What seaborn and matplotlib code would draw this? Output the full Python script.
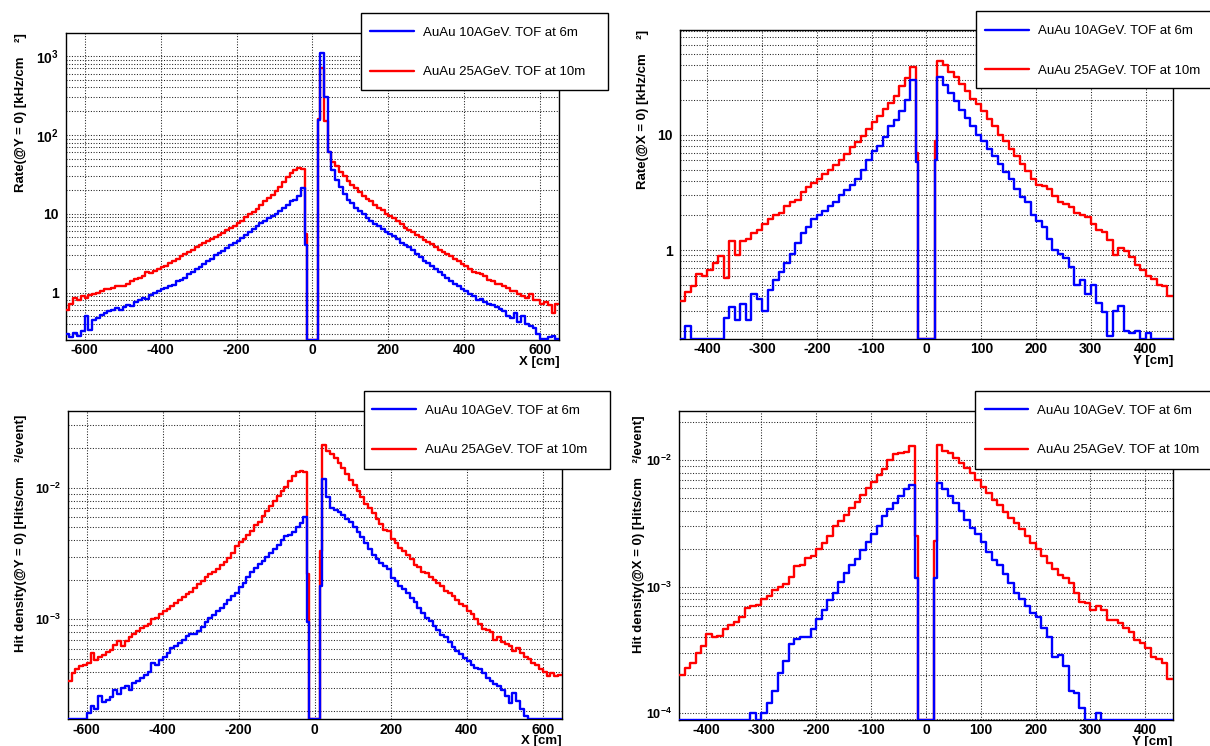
import numpy as np
import pandas as pd
import matplotlib
matplotlib.use("Agg")
import matplotlib.pyplot as plt
import seaborn as sns
from matplotlib.lines import Line2D
from matplotlib.patches import Rectangle
from matplotlib.ticker import MultipleLocator, LogLocator, NullFormatter, FuncFormatter

sns.set_style("white")
plt.rcParams['font.family'] = ['Liberation Sans', 'DejaVu Sans']
plt.rcParams['font.weight'] = 'bold'
plt.rcParams['mathtext.fontset'] = 'custom'
plt.rcParams['mathtext.rm'] = 'Liberation Sans:bold'
plt.rcParams['mathtext.bf'] = 'Liberation Sans:bold'
plt.rcParams['mathtext.it'] = 'Liberation Sans:bold'
plt.rcParams['axes.unicode_minus'] = False
for k in ['axes.edgecolor', 'text.color', 'axes.labelcolor', 'xtick.color', 'ytick.color']:
    plt.rcParams[k] = 'black'

# ---------------- data ----------------
series = ["AuAu 10AGeV. TOF at 6m", "AuAu 25AGeV. TOF at 10m"]
series_colors = {"AuAu 10AGeV. TOF at 6m": "#0000ff", "AuAu 25AGeV. TOF at 10m": "#ff0000"}

# bins: 10 cm wide, with 5 cm bins next to the beam hole (-20..-15, hole -15..15, 15..20)
edges_x = np.concatenate([np.arange(-650, -15, 10), [-15, 15], np.arange(20, 651, 10)])
edges_y = np.concatenate([np.arange(-450, -15, 10), [-15, 15], np.arange(20, 451, 10)])

# Panel 1: Rate(@Y=0) vs X  [kHz/cm2]
rate_x_10 = [
    0.30, 0.27, 0.31, 0.28, 0.33, 0.50, 0.34, 0.45, 0.48, 0.52,
    0.55, 0.58, 0.60, 0.63, 0.60, 0.66, 0.70, 0.67, 0.75, 0.80,
    0.85, 0.82, 0.92, 1.00, 1.05, 1.10, 1.15, 1.22, 1.25, 1.40,
    1.45, 1.55, 1.70, 1.80, 2.00, 2.10, 2.30, 2.50, 2.70, 3.00,
    3.20, 3.40, 3.70, 4.00, 4.30, 4.50, 4.90, 5.30, 5.80, 6.40,
    7.00, 7.60, 8.20, 8.80, 9.30, 10.0, 10.8, 12.0, 13.0, 14.5,
    15.0, 17.0, 21.0,
    4.0, 0.0, 155.0,
    1080, 300, 60, 36, 27, 22, 18, 15, 13.5, 12,
    10.8, 9.8, 8.8, 8.2, 7.5, 7.0, 6.5, 5.9, 5.6, 5.2,
    4.8, 4.3, 4.0, 3.8, 3.5, 3.1, 2.8, 2.5, 2.4, 2.2,
    2.0, 1.85, 1.65, 1.55, 1.40, 1.30, 1.20, 1.10, 1.05, 0.95,
    0.90, 0.80, 0.82, 0.75, 0.72, 0.70, 0.65, 0.62, 0.58, 0.50,
    0.48, 0.55, 0.42, 0.50, 0.40, 0.38, 0.36, 0.30, 0.26, 0.26,
    0.27, 0.28, 0.26]
rate_x_25 = [
    0.60, 0.72, 0.85, 0.80, 0.90, 0.85, 0.92, 0.95, 1.00, 1.05,
    1.10, 1.12, 1.15, 1.20, 1.22, 1.20, 1.30, 1.40, 1.50, 1.55,
    1.60, 1.85, 1.75, 1.90, 2.00, 2.10, 2.15, 2.40, 2.55, 2.70,
    2.90, 3.10, 3.30, 3.50, 3.80, 4.00, 4.30, 4.50, 4.80, 5.00,
    5.30, 5.70, 6.20, 6.60, 7.00, 7.60, 8.20, 9.00, 9.80, 10.5,
    11.5, 13.0, 14.5, 16.0, 17.5, 19.5, 22.0, 25.0, 29.0, 33.0,
    36.0, 38.0, 37.0,
    5.5, 0.0, 160.0,
    700, 150, 60, 46, 40, 34, 30, 26, 23, 21,
    19, 17, 15.5, 14.5, 13, 12, 11, 10, 9.4, 8.8,
    8.2, 7.5, 6.6, 6.2, 5.8, 5.4, 5.0, 4.7, 4.4, 4.1,
    3.8, 3.5, 3.3, 3.1, 2.9, 2.7, 2.5, 2.3, 2.15, 2.0,
    1.85, 1.75, 1.70, 1.60, 1.45, 1.40, 1.30, 1.28, 1.20, 1.15,
    1.05, 1.05, 0.95, 0.90, 0.85, 0.95, 0.80, 0.80, 0.72, 0.75,
    0.70, 0.55, 0.72]

# Panel 2: Rate(@X=0) vs Y  [kHz/cm2]
rate_y_10 = [
    0, 0.22, 0, 0, 0, 0, 0, 0, 0.26, 0.32,
    0.25, 0.34, 0.25, 0.42, 0.38, 0.30, 0.45, 0.55, 0.65, 0.78,
    0.93, 1.15, 1.4, 1.6, 1.85, 2.0, 2.2, 2.4, 2.6, 3.0,
    3.3, 3.7, 4.1, 5.0, 6.1, 7.3, 8.0, 9.5, 11.9, 13.5,
    16, 20, 30,
    5.8, 0.0, 6.0,
    32, 27, 23, 19.5, 16.5, 14, 12, 10, 8.8, 7.5,
    6.5, 5.6, 4.8, 4.1, 3.4, 2.9, 2.6, 2.0, 1.8, 1.6,
    1.25, 1.0, 0.92, 0.85, 0.72, 0.5, 0.55, 0.42, 0.5, 0.35,
    0.29, 0.18, 0.30, 0.33, 0.2, 0.19, 0.2, 0, 0.19, 0,
    0, 0, 0]
rate_y_25 = [
    0.36, 0.43, 0.49, 0.62, 0.60, 0.68, 0.78, 0.89, 0.57, 1.20,
    0.90, 1.20, 1.25, 1.40, 1.50, 1.70, 1.85, 2.00, 2.10, 2.40,
    2.60, 2.75, 3.20, 3.50, 3.85, 4.10, 4.60, 5.00, 5.50, 6.10,
    6.80, 7.80, 8.60, 9.80, 11.2, 12.8, 14.6, 16.7, 19.0, 21.8,
    26.5, 31.0, 39.0,
    7.0, 0.0, 8.8,
    44, 40, 35, 31.5, 27.6, 24, 20.4, 18.5, 16.2, 13.7,
    12, 10, 8.9, 7.5, 6.6, 5.6, 4.9, 4.1, 3.7, 3.6,
    3.4, 2.95, 2.6, 2.5, 2.35, 2.1, 2.0, 1.95, 1.7, 1.5,
    1.45, 1.23, 0.9, 1.05, 0.98, 0.88, 0.75, 0.68, 0.6, 0.56,
    0.5, 0.49, 0.4]

# Panel 3: Hit density(@Y=0) vs X  [Hits/cm2/event]
hits_x_10 = [
    0, 0, 0, 0, 0, 1.95e-4, 2.2e-4, 2.1e-4, 2.6e-4, 2.35e-4,
    2.45e-4, 2.55e-4, 2.9e-4, 2.7e-4, 3.0e-4, 3.1e-4, 2.9e-4, 3.3e-4, 3.4e-4, 3.6e-4,
    3.8e-4, 4.0e-4, 4.7e-4, 4.5e-4, 4.9e-4, 5.2e-4, 5.6e-4, 6.1e-4, 6.3e-4, 6.6e-4,
    7.0e-4, 7.5e-4, 7.7e-4, 7.8e-4, 8.2e-4, 8.8e-4, 9.5e-4, 1.02e-3, 1.08e-3, 1.15e-3,
    1.22e-3, 1.3e-3, 1.4e-3, 1.5e-3, 1.6e-3, 1.75e-3, 1.9e-3, 2.1e-3, 2.3e-3, 2.45e-3,
    2.65e-3, 2.8e-3, 3.0e-3, 3.2e-3, 3.4e-3, 3.7e-3, 4.0e-3, 4.3e-3, 4.4e-3, 4.6e-3,
    5.0e-3, 5.4e-3, 6.0e-3,
    9.5e-4, 0.0, 1.8e-3,
    1.16e-2, 8.5e-3, 7.0e-3, 6.8e-3, 6.5e-3, 6.2e-3, 5.8e-3, 5.5e-3, 5.0e-3, 4.6e-3,
    4.2e-3, 3.8e-3, 3.4e-3, 3.1e-3, 2.9e-3, 2.7e-3, 2.55e-3, 2.4e-3, 2.05e-3, 1.95e-3,
    1.8e-3, 1.7e-3, 1.6e-3, 1.45e-3, 1.35e-3, 1.22e-3, 1.12e-3, 1.02e-3, 9.8e-4, 8.9e-4,
    8.3e-4, 7.6e-4, 7.3e-4, 6.7e-4, 6.2e-4, 5.8e-4, 5.5e-4, 5.1e-4, 4.8e-4, 4.5e-4,
    4.3e-4, 4.2e-4, 3.9e-4, 3.6e-4, 3.4e-4, 3.25e-4, 3.1e-4, 2.9e-4, 2.6e-4, 2.3e-4,
    2.75e-4, 2.4e-4, 2.1e-4, 1.85e-4, 0, 0, 0, 0, 0, 0,
    0, 0, 0]
hits_x_25 = [
    3.4e-4, 3.9e-4, 4.2e-4, 4.4e-4, 4.5e-4, 4.7e-4, 5.6e-4, 4.9e-4, 5.2e-4, 5.4e-4,
    5.7e-4, 5.9e-4, 6.4e-4, 6.8e-4, 6.3e-4, 6.8e-4, 7.3e-4, 7.8e-4, 8.2e-4, 8.6e-4,
    8.9e-4, 9.3e-4, 1.0e-3, 1.03e-3, 1.1e-3, 1.15e-3, 1.2e-3, 1.27e-3, 1.33e-3, 1.4e-3,
    1.48e-3, 1.55e-3, 1.62e-3, 1.72e-3, 1.85e-3, 1.95e-3, 2.1e-3, 2.2e-3, 2.3e-3, 2.4e-3,
    2.6e-3, 2.75e-3, 2.95e-3, 3.2e-3, 3.6e-3, 3.85e-3, 4.1e-3, 4.4e-3, 4.7e-3, 5.2e-3,
    5.5e-3, 6.1e-3, 6.7e-3, 7.3e-3, 8.0e-3, 8.6e-3, 9.4e-3, 1.02e-2, 1.12e-2, 1.22e-2,
    1.32e-2, 1.34e-2, 1.33e-2,
    2.2e-3, 0.0, 3.3e-3,
    2.13e-2, 1.9e-2, 1.8e-2, 1.7e-2, 1.55e-2, 1.42e-2, 1.28e-2, 1.15e-2, 1.05e-2, 9.5e-3,
    8.5e-3, 7.6e-3, 7.0e-3, 6.4e-3, 5.8e-3, 5.3e-3, 4.8e-3, 4.7e-3, 4.1e-3, 3.8e-3,
    3.5e-3, 3.3e-3, 3.1e-3, 2.9e-3, 2.6e-3, 2.5e-3, 2.3e-3, 2.25e-3, 2.1e-3, 2.0e-3,
    1.9e-3, 1.8e-3, 1.65e-3, 1.6e-3, 1.5e-3, 1.4e-3, 1.3e-3, 1.26e-3, 1.15e-3, 1.1e-3,
    1.0e-3, 9.2e-4, 8.5e-4, 8.3e-4, 8.0e-4, 7.0e-4, 7.4e-4, 6.7e-4, 6.5e-4, 6.3e-4,
    5.8e-4, 6.1e-4, 5.6e-4, 5.2e-4, 5.0e-4, 4.7e-4, 4.5e-4, 4.2e-4, 4.0e-4, 3.7e-4,
    3.9e-4, 3.7e-4, 3.8e-4]

# Panel 4: Hit density(@X=0) vs Y  [Hits/cm2/event]
hits_y_10 = [
    0, 0, 0, 0, 0, 0, 0, 0, 0, 0,
    0, 0, 0, 1.0e-4, 0, 1.0e-4, 1.2e-4, 1.5e-4, 2.1e-4, 2.6e-4,
    3.5e-4, 3.9e-4, 4.0e-4, 4.0e-4, 4.6e-4, 5.6e-4, 6.5e-4, 7.9e-4, 9.0e-4, 1.1e-3,
    1.28e-3, 1.5e-3, 1.65e-3, 1.95e-3, 2.25e-3, 2.6e-3, 3.0e-3, 3.6e-3, 4.1e-3, 4.6e-3,
    5.2e-3, 5.9e-3, 6.4e-3,
    1.17e-3, 0.0, 1.17e-3,
    6.6e-3, 5.9e-3, 5.2e-3, 4.6e-3, 4.0e-3, 3.4e-3, 2.9e-3, 2.6e-3, 2.25e-3, 1.9e-3,
    1.62e-3, 1.5e-3, 1.27e-3, 1.07e-3, 9.0e-4, 8.0e-4, 7.0e-4, 6.2e-4, 5.8e-4, 4.7e-4,
    4.0e-4, 2.8e-4, 2.9e-4, 2.35e-4, 1.5e-4, 1.45e-4, 1.1e-4, 0, 0, 1.0e-4,
    0, 0, 0, 0, 0, 0, 0, 0, 0, 0,
    0, 0, 0]
hits_y_25 = [
    2.0e-4, 2.3e-4, 2.5e-4, 3.0e-4, 3.4e-4, 4.2e-4, 4.0e-4, 4.1e-4, 4.6e-4, 5.0e-4,
    5.3e-4, 5.8e-4, 6.8e-4, 7.0e-4, 7.2e-4, 8.0e-4, 8.4e-4, 9.5e-4, 1.0e-3, 1.05e-3,
    1.2e-3, 1.45e-3, 1.5e-3, 1.7e-3, 1.75e-3, 2.0e-3, 2.2e-3, 2.5e-3, 3.0e-3, 3.3e-3,
    3.7e-3, 4.2e-3, 4.7e-3, 5.3e-3, 6.0e-3, 6.7e-3, 7.6e-3, 8.6e-3, 1.0e-2, 1.12e-2,
    1.15e-2, 1.17e-2, 1.3e-2,
    2.5e-3, 0.0, 2.3e-3,
    1.33e-2, 1.18e-2, 1.15e-2, 1.05e-2, 9.5e-3, 8.7e-3, 7.9e-3, 7.0e-3, 6.2e-3, 5.5e-3,
    4.9e-3, 4.4e-3, 3.9e-3, 3.5e-3, 3.2e-3, 2.85e-3, 2.5e-3, 2.2e-3, 2.0e-3, 1.75e-3,
    1.55e-3, 1.38e-3, 1.25e-3, 1.18e-3, 1.08e-3, 9.0e-4, 7.6e-4, 7.4e-4, 6.6e-4, 7.0e-4,
    6.5e-4, 5.5e-4, 5.5e-4, 5.2e-4, 4.7e-4, 4.4e-4, 3.8e-4, 3.6e-4, 3.3e-4, 2.8e-4,
    2.7e-4, 2.5e-4, 1.85e-4]

y_titles = ["Rate(@Y = 0) [kHz/cm    \u00b2]", "Rate(@X = 0) [kHz/cm    \u00b2]",
            "Hit density(@Y = 0) [Hits/cm    \u00b2/event]", "Hit density(@X = 0) [Hits/cm    \u00b2/event]"]
x_titles = ["X [cm]", "Y [cm]", "X [cm]", "Y [cm]"]

# ---------------- layout ----------------
W, H = 1210, 746
fig = plt.figure(figsize=(W / 100, H / 100), dpi=100)
fig.patch.set_facecolor("white")

panels = [
    dict(edges=edges_x, blue=rate_x_10, red=rate_x_25, ylim=(0.25, 1980), xlim=(-650, 650),
         xmaj=200, xmin=50, rect=[0.0543, 0.5442, 0.4079, 0.4119], ylc=(-0.0794, 1.0),
         box=(361, 13, 608, 90), hx=370, rows=(33, 72), ysize=10),
    dict(edges=edges_y, blue=rate_y_10, red=rate_y_25, ylim=(0.17, 81), xlim=(-450, 450),
         xmaj=100, xmin=10, rect=[0.5620, 0.5456, 0.4074, 0.4142], ylc=(-0.063, 1.0),
         box=(976, 11, 1216, 88), hx=985, rows=(31.7, 70), ysize=10),
    dict(edges=edges_x, blue=hits_x_10, red=hits_x_25, ylim=(1.74e-4, 0.0386), xlim=(-650, 650),
         xmaj=200, xmin=50, rect=[0.0560, 0.0358, 0.4083, 0.4137], ylc=(-0.0830, 0.987),
         box=(364, 391, 610, 469), hx=372, rows=(411, 450), ysize=9),
    dict(edges=edges_y, blue=hits_y_10, red=hits_y_25, ylim=(8.85e-5, 0.0247), xlim=(-450, 450),
         xmaj=100, xmin=10, rect=[0.5612, 0.0349, 0.4080, 0.4146], ylc=(-0.0690, 0.986),
         box=(975, 391, 1216, 469), hx=984.5, rows=(411, 450), ysize=9),
]


def log_label(v, pos):
    e = int(round(np.log10(v)))
    if e == 0:
        return "1"
    if e == 1:
        return "10"
    return r"$10^{%d}$" % e


grid_kw = dict(color="#222222", linestyle=(0, (1, 1.6)), linewidth=0.75)

for i, p in enumerate(panels):
    ax = fig.add_axes(p["rect"])
    ymin = p["ylim"][0]
    frames = []
    for name, vals in ((series[1], p["red"]), (series[0], p["blue"])):
        v = np.maximum(np.asarray(vals, dtype=float), ymin)
        assert len(v) == len(p["edges"]) - 1
        frames.append(pd.DataFrame({"x": p["edges"], "y": np.append(v, v[-1]), "series": name}))
    df = pd.concat(frames, ignore_index=True)
    sns.lineplot(data=df, x="x", y="y", hue="series", hue_order=[series[1], series[0]],
                 palette=series_colors, drawstyle="steps-post", estimator=None, sort=False,
                 linewidth=1.7, legend=False, ax=ax, zorder=3)
    ax.set_yscale("log")
    ax.set_xlim(*p["xlim"])
    ax.set_ylim(*p["ylim"])
    ax.xaxis.set_major_locator(MultipleLocator(p["xmaj"]))
    ax.xaxis.set_minor_locator(MultipleLocator(p["xmin"]))
    ax.yaxis.set_major_locator(LogLocator(base=10))
    ax.yaxis.set_minor_locator(LogLocator(base=10, subs=np.arange(2, 10)))
    ax.yaxis.set_major_formatter(FuncFormatter(log_label))
    ax.yaxis.set_minor_formatter(NullFormatter())
    ax.set_axisbelow(True)
    ax.grid(True, which="major", axis="x", **grid_kw)
    ax.grid(True, which="both", axis="y", **grid_kw)
    ax.tick_params(axis="both", which="both", direction="in", top=False, right=False, width=1)
    ax.tick_params(axis="x", labelsize=10)
    ax.tick_params(axis="y", labelsize=p["ysize"])
    ax.tick_params(axis="y", which="major", length=10.5, pad=5)
    ax.tick_params(axis="y", which="minor", length=5)
    ax.tick_params(axis="x", which="major", length=6.5, pad=2.5)
    ax.tick_params(axis="x", which="minor", length=3.3)
    for s in ax.spines.values():
        s.set_linewidth(1.0)
        s.set_color("black")
    ax.set_ylabel(y_titles[i], fontsize=9.5, fontweight="bold", loc="top")
    ax.yaxis.set_label_coords(*p["ylc"])
    ax.set_xlabel(x_titles[i], fontsize=9.5, fontweight="bold", loc="right")
    ax.xaxis.set_label_coords(1.0, -0.052)

    # legend box (TLegend style)
    x0, y0, x1, y1 = p["box"]
    fig.add_artist(Rectangle((x0 / W, 1 - y1 / H), (x1 - x0) / W, (y1 - y0) / H,
                             transform=fig.transFigure, facecolor="white",
                             edgecolor="black", linewidth=1.0, zorder=5))
    handles = [Line2D([], [], color=series_colors[s], linewidth=1.7) for s in series]
    yc = 1 - (p["rows"][0] + p["rows"][1]) / 2 / H
    leg = fig.legend(handles, series, loc="center left", bbox_to_anchor=(p["hx"] / W, yc),
                     frameon=False, borderpad=0, borderaxespad=0,
                     handlelength=3.3, handletextpad=0.68, labelspacing=2.05,
                     prop={"weight": "normal", "size": 9.5})
    leg.set_zorder(6)

fig.savefig("out.png", dpi=100)
